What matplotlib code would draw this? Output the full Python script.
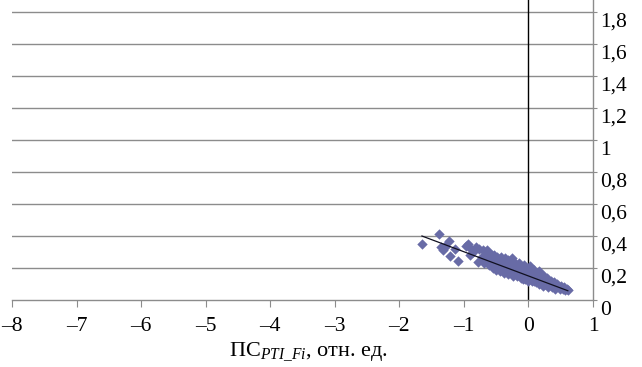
import matplotlib
matplotlib.use("Agg")
import matplotlib.pyplot as plt
import numpy as np

plt.rcParams['font.family'] = ['Liberation Serif', 'DejaVu Serif']
plt.rcParams['mathtext.fontset'] = 'custom'
plt.rcParams['mathtext.rm'] = 'Liberation Serif'
plt.rcParams['mathtext.it'] = 'Liberation Serif:italic'

# scatter values
pts_x = [-1.65, -1.38, -1.23, -1.33, -1.35, -1.29, -1.21, -1.09, -0.96, -0.93,
         -0.89, -0.91, -0.78, -0.76, -0.82, -0.65, -0.70, -1.14, -1.30, -0.86,
         -0.72, -0.69, -0.66, -0.64, -0.61, -0.60, -0.58, -0.56, -0.55, -0.53,
         -0.51, -0.50, -0.48, -0.47, -0.45, -0.44, -0.42, -0.41, -0.40, -0.38,
         -0.36, -0.35, -0.34, -0.32, -0.31, -0.30, -0.28, -0.27, -0.26, -0.24,
         -0.23, -0.22, -0.20, -0.19, -0.18, -0.16, -0.15, -0.14, -0.12, -0.11,
         -0.10, -0.09, -0.07, -0.06, -0.05, -0.04, -0.02, -0.01, 0.00, 0.01,
         0.02, 0.04, 0.05, 0.06, 0.07, 0.09, 0.10, 0.11, 0.12, 0.14,
         0.15, 0.16, 0.17, 0.19, 0.20, 0.21, 0.22, 0.24, 0.25, 0.26,
         0.28, 0.29, 0.30, 0.32, 0.33, 0.35, 0.36, 0.38, 0.40, 0.41,
         0.43, 0.45, 0.47, 0.49, 0.51, 0.53, 0.55, 0.57, 0.60, 0.62,
         -0.62, -0.57, -0.52, -0.46, -0.43, -0.37, -0.33, -0.29, -0.25, -0.21,
         -0.17, -0.13, -0.08, -0.03, 0.03, 0.08, 0.13, 0.18, 0.23, 0.27]
pts_y = [0.35, 0.41, 0.37, 0.31, 0.33, 0.33, 0.275, 0.245, 0.34, 0.35,
         0.32, 0.28, 0.24, 0.32, 0.33, 0.30, 0.31, 0.32, 0.34, 0.30,
         0.27, 0.23, 0.25, 0.31, 0.22, 0.29, 0.26, 0.23, 0.20, 0.28,
         0.24, 0.19, 0.27, 0.22, 0.25, 0.18, 0.27, 0.21, 0.24, 0.17,
         0.26, 0.22, 0.19, 0.25, 0.16, 0.21, 0.23, 0.18, 0.26, 0.15,
         0.21, 0.24, 0.18, 0.22, 0.15, 0.20, 0.23, 0.17, 0.14, 0.21,
         0.19, 0.16, 0.22, 0.13, 0.18, 0.20, 0.15, 0.12, 0.19, 0.17,
         0.21, 0.14, 0.18, 0.12, 0.16, 0.19, 0.14, 0.11, 0.17, 0.15,
         0.12, 0.18, 0.10, 0.14, 0.16, 0.12, 0.09, 0.15, 0.13, 0.10,
         0.14, 0.11, 0.08, 0.12, 0.10, 0.12, 0.08, 0.10, 0.11, 0.07,
         0.09, 0.10, 0.08, 0.07, 0.09, 0.07, 0.08, 0.065, 0.07, 0.065,
         0.27, 0.28, 0.22, 0.20, 0.23, 0.21, 0.24, 0.19, 0.20, 0.17,
         0.18, 0.16, 0.13, 0.15, 0.13, 0.12, 0.16, 0.11, 0.10, 0.12]

# linear trend line end points
trend_x = [-1.65, 0.61]
trend_y = [0.40, 0.058]

x_ticks = [-8, -7, -6, -5, -4, -3, -2, -1, 0, 1]
x_tick_labels = ['–8', '–7', '–6', '–5', '–4', '–3', '–2', '–1', '0', '1']
y_ticks = [0, 0.2, 0.4, 0.6, 0.8, 1.0, 1.2, 1.4, 1.6, 1.8]
y_tick_labels = ['0', '0,2', '0,4', '0,6', '0,8', '1', '1,2', '1,4', '1,6', '1,8']

fig = plt.figure(figsize=(6.42, 3.67), dpi=100)
ax = fig.add_axes([12/642, 1 - 300/367, (593 - 12)/642, 300/367])
ax.set_xlim(-8, 1)
ax.set_ylim(0, 1.875)

grid_c = '#8c8c8c'
for yv in y_ticks[1:]:
    ax.axhline(yv, color=grid_c, lw=1.0, zorder=1)

ax.axvline(0, color='black', lw=1.0, zorder=2)

ax.scatter(pts_x, pts_y, marker='D', s=28, color='#686BA6', linewidths=0, zorder=3)
ax.plot(trend_x, trend_y, color='#101020', lw=0.9, zorder=4)

for s in ['top', 'left']:
    ax.spines[s].set_visible(False)
for s in ['bottom', 'right']:
    ax.spines[s].set_color(grid_c)
    ax.spines[s].set_linewidth(1.0)

ax.set_xticks(x_ticks)
ax.set_xticklabels(x_tick_labels, fontsize=15.5)
ax.tick_params(axis='x', direction='out', length=5, color=grid_c, pad=7)
ax.yaxis.tick_right()
ax.set_yticks(y_ticks)
ax.set_yticklabels([])
ax.tick_params(axis='y', direction='out', length=3, color=grid_c, right=True, left=False)

for yv, lab in zip(y_ticks, y_tick_labels):
    ax.text(1.0 + 0.11, yv - 0.005, lab, fontsize=15.5, ha='left', va='top',
            transform=ax.transData, clip_on=False)

fig.text(308/642, 1 - 352/367, 'ПС$_{\\mathit{PTI\\_Fi}}$, отн. ед.', fontsize=16,
         ha='center', va='center')

fig.savefig('out.png', dpi=100)
